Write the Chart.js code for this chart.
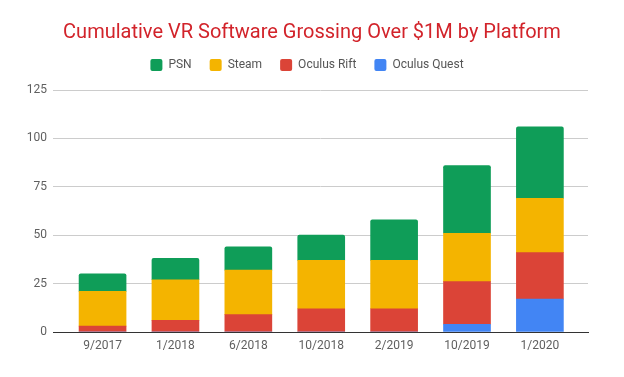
<!DOCTYPE html>
<html>
<head>
<meta charset="utf-8">
<script src="https://cdn.jsdelivr.net/npm/chart.js@4"></script>
<style>
  html, body { margin: 0; padding: 0; background: #fff; }
  #wrap { width: 624px; height: 377px; }
</style>
</head>
<body>
<div id="wrap"><canvas id="c" width="624" height="377"></canvas></div>
<script>
const categories = ["9/2017", "1/2018", "6/2018", "10/2018", "2/2019", "10/2019", "1/2020"];
const oculusQuest = [0, 0, 0, 0, 0, 4, 17];
const oculusRift  = [3, 6, 9, 12, 12, 22, 24];
const steam       = [18, 21, 23, 25, 25, 25, 28];
const psn         = [9, 11, 12, 13, 21, 35, 37];
const yTicks = [0, 25, 50, 75, 100, 125];

const toPts = arr => arr.map((v, i) => ({ x: i, y: v }));

const FONT = "Roboto, 'Noto Sans', Arial, sans-serif";

const legendTweak = {
  id: 'legendTweak',
  beforeUpdate(chart) {
    const lg = chart.legend;
    if (lg && !lg._patched) {
      const f = lg.fit.bind(lg);
      lg.fit = function () { f(); this.height += 9; };
      const d = lg.draw.bind(lg);
      lg.draw = function () {
        const ctx = this.ctx;
        ctx.save(); ctx.translate(-5, 0); d(); ctx.restore();
      };
      lg._patched = true;
    }
  }
};

new Chart(document.getElementById('c'), {
  type: 'bar',
  plugins: [legendTweak],
  data: {
    datasets: [
      { label: 'Oculus Quest', data: toPts(oculusQuest), backgroundColor: '#4285f4' },
      { label: 'Oculus Rift', data: toPts(oculusRift), backgroundColor: '#db4437' },
      { label: 'Steam', data: toPts(steam), backgroundColor: '#f4b400' },
      { label: 'PSN', data: toPts(psn), backgroundColor: '#0f9d58',
        borderRadius: { topLeft: 2, topRight: 2, bottomLeft: 0, bottomRight: 0 }, borderSkipped: false }
    ]
  },
  options: {
    responsive: false,
    animation: false,
    devicePixelRatio: 1,
    datasets: { bar: { barThickness: 47 } },
    layout: { padding: { left: 0, right: 0, top: 0, bottom: 0 } },
    plugins: {
      title: {
        display: true,
        text: 'Cumulative VR Software Grossing Over $1M by Platform',
        color: '#d2232a',
        font: { family: FONT, size: 20, weight: 'normal', lineHeight: 0.8 },
        padding: { top: 25, bottom: 0 }
      },
      legend: {
        display: true,
        reverse: true,
        labels: {
          color: '#555',
          font: { family: FONT, size: 12 },
          boxWidth: 12,
          boxHeight: 12,
          padding: 18,
          useBorderRadius: true,
          borderRadius: 2
        }
      },
      tooltip: { enabled: false }
    },
    scales: {
      x: {
        type: 'linear',
        stacked: true,
        offset: false,
        min: -0.68,
        max: 6.66,
        afterBuildTicks: s => { s.ticks = categories.map((_, i) => ({ value: i })); },
        afterFit: s => { s.height = 45; },
        ticks: {
          color: '#5f5f5f',
          font: { family: FONT, size: 12 },
          padding: 7,
          autoSkip: false,
          maxRotation: 0,
          callback: v => categories[v]
        },
        grid: { display: false, drawTicks: false, offset: false },
        border: { display: true, color: '#333', width: 1 }
      },
      y: {
        stacked: true,
        min: 0,
        max: 125,
        afterBuildTicks: s => { s.ticks = yTicks.map(v => ({ value: v })); },
        afterFit: s => { s.width = 53; },
        ticks: {
          color: '#5f5f5f',
          font: { family: FONT, size: 12 },
          padding: 6
        },
        grid: { color: '#cccccc', drawTicks: false },
        border: { display: false }
      },
      yRight: {
        position: 'right',
        display: true,
        afterFit: s => { s.width = 36; },
        ticks: { display: false },
        grid: { display: false, drawTicks: false },
        border: { display: false }
      }
    }
  }
});
</script>
</body>
</html>
